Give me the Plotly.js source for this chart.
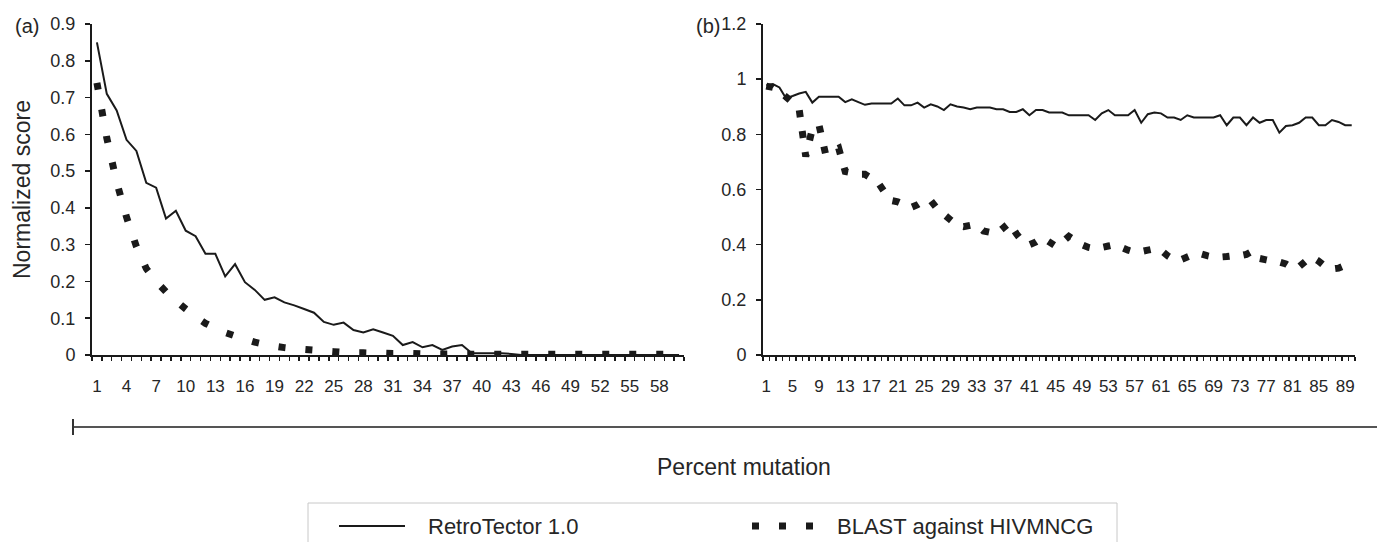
<!DOCTYPE html>
<html><head><meta charset="utf-8">
<script src="https://cdn.plot.ly/plotly-3.0.1.min.js"></script>
<style>html,body{margin:0;padding:0;background:#fff}#chart{width:1377px;height:542px}</style>
</head><body><div id="chart"></div>
<script>
// ---------- data ----------
const mutationA = Array.from({length: 60}, (_, i) => i + 1);   // percent mutation, panel (a)
const mutationB = Array.from({length: 90}, (_, i) => i + 1);   // percent mutation, panel (b)

const retroA = [0.85,0.71,0.665,0.585,0.555,0.468,0.455,0.371,0.392,0.338,
                0.323,0.275,0.275,0.214,0.247,0.198,0.177,0.150,0.157,0.143,
                0.135,0.125,0.115,0.090,0.082,0.088,0.068,0.061,0.070,0.061,
                0.052,0.027,0.035,0.021,0.027,0.014,0.023,0.027,0.005,0.005,
                0.005,0.005,0.003,0,0,0,0,0,0,0,
                0,0,0,0,0,0,0,0,0,0];
const blastA = [0.74,0.59,0.47,0.375,0.295,0.235,0.20,0.172,0.148,0.125,
                0.104,0.086,0.073,0.061,0.052,0.043,0.035,0.029,0.024,0.020,
                0.017,0.015,0.013,0.011,0.009,0.007,0.006,0.006,0.005,0.005,
                0.004,0.004,0.004,0.003,0.003,0.003,0.003,0.002,0.002,0.002,
                0.002,0.002,0.002,0.002,0.002,0.002,0.002,0.002,0.002,0.002,
                0.002,0.002,0.002,0.002,0.002,0.002,0.002,0.002,0.002,0.002];

const retroB = [0.978,0.982,0.970,0.931,0.939,0.948,0.954,0.915,0.936,0.936,
                0.936,0.936,0.917,0.927,0.917,0.907,0.912,0.912,0.912,0.912,
                0.930,0.905,0.905,0.915,0.897,0.909,0.901,0.888,0.909,0.901,
                0.897,0.891,0.897,0.897,0.897,0.891,0.891,0.881,0.881,0.891,
                0.869,0.888,0.888,0.879,0.879,0.879,0.869,0.869,0.869,0.869,
                0.852,0.876,0.888,0.869,0.869,0.869,0.888,0.842,0.873,0.879,
                0.876,0.861,0.861,0.852,0.869,0.861,0.861,0.861,0.861,0.869,
                0.833,0.861,0.861,0.833,0.861,0.842,0.852,0.852,0.806,0.830,
                0.833,0.842,0.861,0.861,0.833,0.833,0.852,0.845,0.833,0.833];
const blastB = [0.975,0.970,0.955,0.936,0.915,0.89,0.72,0.82,0.835,0.73,
                0.74,0.75,0.665,0.66,0.655,0.655,0.64,0.625,0.59,0.56,
                0.555,0.545,0.535,0.545,0.56,0.56,0.53,0.51,0.49,0.47,
                0.465,0.47,0.47,0.45,0.445,0.44,0.46,0.48,0.44,0.41,
                0.40,0.41,0.425,0.41,0.395,0.41,0.43,0.415,0.40,0.39,
                0.385,0.39,0.395,0.40,0.39,0.38,0.373,0.375,0.38,0.385,
                0.38,0.36,0.345,0.345,0.355,0.365,0.367,0.36,0.355,0.355,
                0.357,0.36,0.36,0.365,0.378,0.35,0.345,0.34,0.337,0.33,
                0.315,0.32,0.34,0.355,0.34,0.32,0.312,0.315,0.325,0.336];

const xTickValsA = [1,4,7,10,13,16,19,22,25,28,31,34,37,40,43,46,49,52,55,58];
const xTickTextA = ['1','4','7','10','13','16','19','22','25','28','31','34','37','40','43','46','49','52','55','58'];
const xTickValsB = [1,5,9,13,17,21,25,29,33,37,41,45,49,53,57,61,65,69,73,77,81,85,89];
const xTickTextB = ['1','5','9','13','17','21','25','29','33','37','41','45','49','53','57','61','65','69','73','77','81','85','89'];
const yTickValsA = [0,0.1,0.2,0.3,0.4,0.5,0.6,0.7,0.8,0.9];
const yTickTextA = ['0','0.1','0.2','0.3','0.4','0.5','0.6','0.7','0.8','0.9'];
const yTickValsB = [0,0.2,0.4,0.6,0.8,1,1.2];
const yTickTextB = ['0','0.2','0.4','0.6','0.8','1','1.2'];

const seriesNames = ['RetroTector 1.0', 'BLAST against HIVMNCG'];

// ---------- layout helpers ----------
const W = 1377, H = 542;
const px = x => x / W;
const py = y => 1 - y / H;
const FONT = 'Liberation Sans, Arial, sans-serif';
const NARROW = 'Liberation Sans Narrow, Arial Narrow, Liberation Sans, Arial, sans-serif';
const INK = '#1a1a1a';
const TXT = '#262626';
const DOTS_A = '7px,20px';
const DOTS_B = '7px,14px';

const boundaries = n => Array.from({length: n + 1}, (_, i) => i + 0.5);

function xAxis(domain, n, vals, text) {
  return {
    domain: domain, range: [0.5, n + 0.5], showgrid: false, zeroline: false,
    showline: true, linecolor: INK, linewidth: 2,
    tickmode: 'array', tickvals: vals, ticktext: text, ticks: '',
    ticklabelstandoff: 15,
    tickfont: {family: NARROW, size: 17, color: TXT},
    minor: {tickmode: 'array', tickvals: boundaries(n), ticks: 'outside', ticklen: 4,
            tickwidth: 1.5, tickcolor: INK, showgrid: false},
    fixedrange: true
  };
}
function yAxis(domain, range, vals, text, anchor) {
  return {
    domain: domain, range: range, anchor: anchor, showgrid: false, zeroline: false,
    showline: true, linecolor: INK, linewidth: 2,
    tickmode: 'array', tickvals: vals, ticktext: text,
    ticks: 'outside', ticklen: 5, tickwidth: 1.5, tickcolor: INK,
    ticklabelstandoff: 6,
    tickfont: {family: FONT, size: 18, color: TXT},
    fixedrange: true
  };
}

const yDom = [py(355), py(24)];

const traces = [
  {x: mutationA, y: retroA, xaxis: 'x', yaxis: 'y', type: 'scatter', mode: 'lines',
   name: seriesNames[0], line: {color: INK, width: 2, simplify: false}, showlegend: false},
  {x: mutationA, y: blastA, xaxis: 'x', yaxis: 'y', type: 'scatter', mode: 'lines',
   name: seriesNames[1], line: {color: INK, width: 7, dash: DOTS_A, simplify: false}, showlegend: false},
  {x: mutationB, y: retroB, xaxis: 'x2', yaxis: 'y2', type: 'scatter', mode: 'lines',
   name: seriesNames[0], line: {color: INK, width: 2, simplify: false}, showlegend: false},
  {x: mutationB, y: blastB, xaxis: 'x2', yaxis: 'y2', type: 'scatter', mode: 'lines',
   name: seriesNames[1], line: {color: INK, width: 7, dash: DOTS_B, simplify: false}, showlegend: false}
];

const layout = {
  width: W, height: H, margin: {l: 0, r: 0, t: 0, b: 0},
  paper_bgcolor: '#fff', plot_bgcolor: 'rgba(0,0,0,0)',
  showlegend: false,
  font: {family: FONT, color: TXT},
  xaxis: Object.assign(xAxis([px(92), px(684)], 60, xTickValsA, xTickTextA), {anchor: 'y'}),
  yaxis: yAxis(yDom, [0, 0.9], yTickValsA, yTickTextA, 'x'),
  xaxis2: Object.assign(xAxis([px(763), px(1355)], 90, xTickValsB, xTickTextB), {anchor: 'y2'}),
  yaxis2: yAxis(yDom, [0, 1.2], yTickValsB, yTickTextB, 'x2'),
  shapes: [
    // shared bottom axis rule
    {type: 'line', xref: 'paper', yref: 'paper', x0: px(73), x1: px(1377), y0: py(427), y1: py(427),
     line: {color: '#555', width: 2}},
    {type: 'line', xref: 'paper', yref: 'paper', x0: px(73), x1: px(73), y0: py(419), y1: py(435),
     line: {color: '#333', width: 2}},
    // legend frame
    {type: 'rect', xref: 'paper', yref: 'paper', x0: px(308), x1: px(1117), y0: py(503), y1: py(560),
     line: {color: '#c8c8c8', width: 1}, fillcolor: 'rgba(0,0,0,0)'},
    // legend samples
    {type: 'line', xref: 'paper', yref: 'paper', x0: px(339), x1: px(405), y0: py(526), y1: py(526),
     line: {color: INK, width: 2}},
    {type: 'line', xref: 'paper', yref: 'paper', x0: px(752), x1: px(814), y0: py(526), y1: py(526),
     line: {color: INK, width: 7, dash: DOTS_A}}
  ],
  annotations: [
    {text: '(a)', xref: 'paper', yref: 'paper', x: px(13), y: py(26), xanchor: 'left', yanchor: 'middle',
     showarrow: false, font: {family: FONT, size: 20, color: TXT}},
    {text: '(b)', xref: 'paper', yref: 'paper', x: px(694), y: py(26), xanchor: 'left', yanchor: 'middle',
     showarrow: false, font: {family: FONT, size: 20, color: TXT}},
    {text: 'Normalized score', xref: 'paper', yref: 'paper', x: px(22), y: py(190), textangle: -90,
     xanchor: 'center', yanchor: 'middle', showarrow: false, font: {family: FONT, size: 23, color: TXT}},
    {text: 'Percent mutation', xref: 'paper', yref: 'paper', x: px(744), y: py(467),
     xanchor: 'center', yanchor: 'middle', showarrow: false, font: {family: FONT, size: 23, color: TXT}},
    {text: seriesNames[0], xref: 'paper', yref: 'paper', x: px(426), y: py(526), xanchor: 'left', yanchor: 'middle',
     showarrow: false, font: {family: FONT, size: 22, color: TXT}},
    {text: seriesNames[1], xref: 'paper', yref: 'paper', x: px(835), y: py(526), xanchor: 'left', yanchor: 'middle',
     showarrow: false, font: {family: FONT, size: 22, color: TXT}}
  ]
};

Plotly.newPlot('chart', traces, layout, {staticPlot: true, displayModeBar: false});
</script>
</body></html>
